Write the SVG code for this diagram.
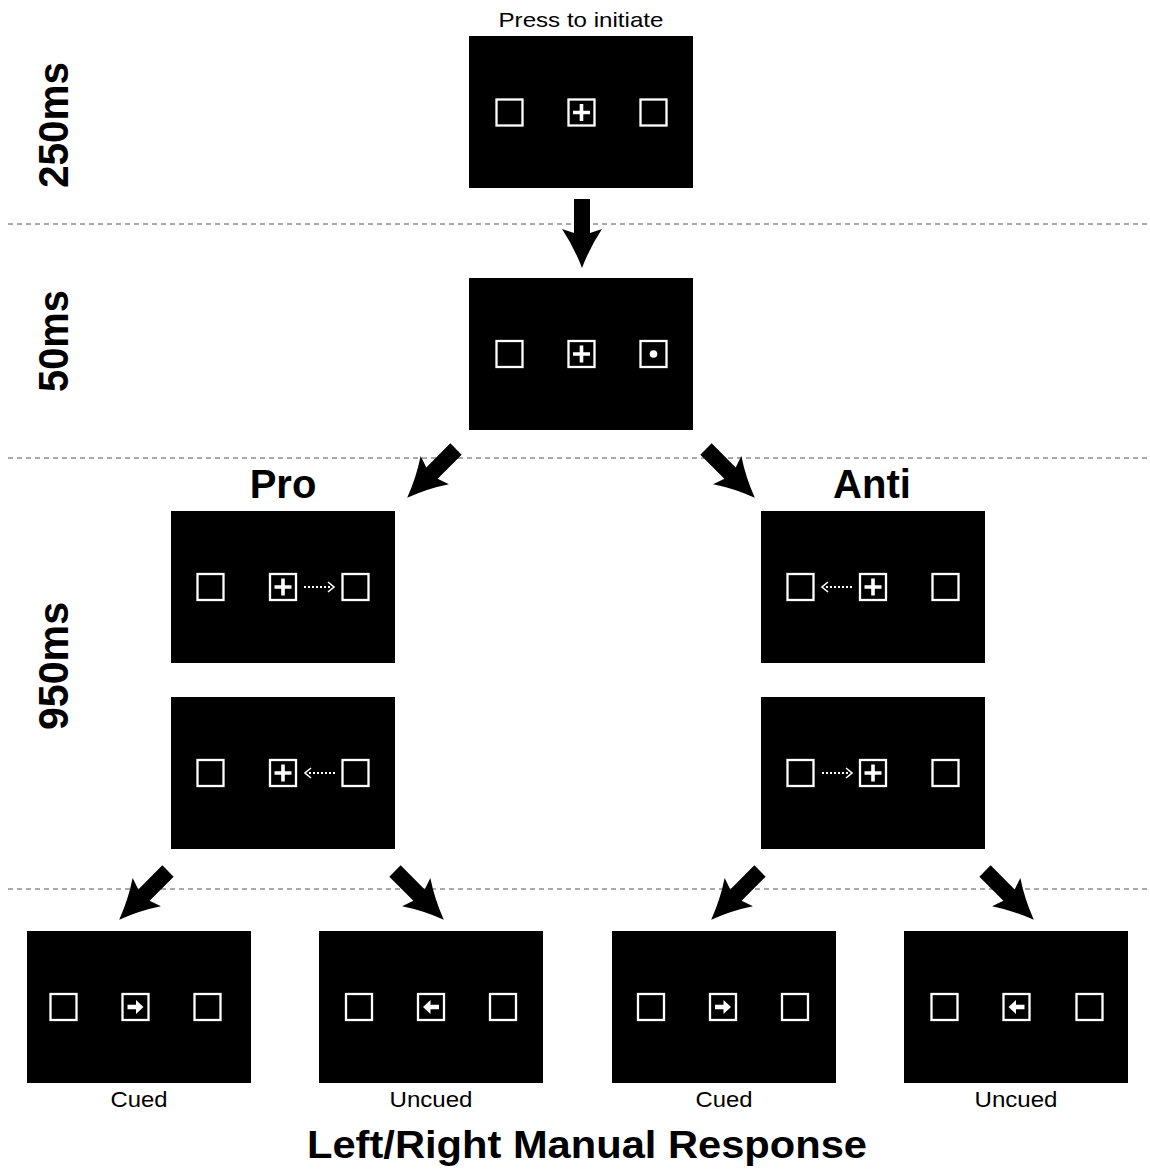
<svg xmlns="http://www.w3.org/2000/svg" xmlns:xlink="http://www.w3.org/1999/xlink" width="1150" height="1170" viewBox="0 0 1150 1170">
  <style>
    .screen { fill: #000; }
    .sq { fill: none; stroke: #fff; stroke-width: 2.3; }
    .dots { fill: none; stroke: #fff; stroke-width: 2; stroke-dasharray: 2 2; }
    .chev { fill: none; stroke: #fff; stroke-width: 1.6; }
    .sep { stroke: #555; stroke-width: 1; stroke-dasharray: 5 4; }
    .lbl { font-family: "Liberation Sans", Arial, sans-serif; fill: #000; }
    .bold { font-weight: bold; }
  </style>
  <defs>
    <!-- empty placeholder square -->
    <rect id="box" class="sq" x="-13" y="-13" width="26" height="26"/>
    <!-- fixation square with a cross -->
    <g id="fix">
      <rect class="sq" x="-13" y="-13" width="26" height="26"/>
      <path d="M-8.5,0 H8.5 M0,-8.5 V8.5" stroke="#fff" stroke-width="3.6"/>
    </g>
    <!-- square with a filled dot (cue) -->
    <g id="dotbox">
      <rect class="sq" x="-13" y="-13" width="26" height="26"/>
      <circle r="3.8" fill="#fff"/>
    </g>
    <!-- square with a solid arrow to the right -->
    <g id="rightbox">
      <rect class="sq" x="-13" y="-13" width="26" height="26"/>
      <path d="M-8,-2.2 H0.5 V-7 L8,0 L0.5,7 V2.2 H-8 Z" fill="#fff"/>
    </g>
    <g id="leftbox">
      <rect class="sq" x="-13" y="-13" width="26" height="26"/>
      <path d="M8,-2.2 H-0.5 V-7 L-8,0 L-0.5,7 V2.2 H8 Z" fill="#fff"/>
    </g>
    <!-- dotted pointer, left to right, 30 long -->
    <g id="dotR">
      <line class="dots" x1="0" y1="0" x2="28" y2="0"/>
      <path class="chev" d="M24,-5 L30,0 L24,5"/>
    </g>
    <g id="dotL">
      <line class="dots" x1="30" y1="0" x2="2" y2="0"/>
      <path class="chev" d="M6,-5 L0,0 L6,5"/>
    </g>
    <!-- big block arrow pointing down, tail centre at origin -->
    <path id="bigArrow" fill="#000" d="M-8,0 H8 V34 L20,30 Q8,48 0,69 Q-8,48 -20,30 L-8,34 Z"/>
  </defs>

  <!-- phase separators -->
  <g id="separators">
    <line class="sep" x1="8" y1="224" x2="1150" y2="224"/>
    <line class="sep" x1="8" y1="458" x2="1150" y2="458"/>
    <line class="sep" x1="8" y1="889" x2="1150" y2="889"/>
  </g>

  <!-- durations -->
  <g id="durations" class="lbl bold" font-size="42" text-anchor="middle">
    <text transform="translate(68,125) rotate(-90)" textLength="126" lengthAdjust="spacingAndGlyphs">250ms</text>
    <text transform="translate(68,341) rotate(-90)" textLength="102" lengthAdjust="spacingAndGlyphs">50ms</text>
    <text transform="translate(68,666) rotate(-90)" textLength="128" lengthAdjust="spacingAndGlyphs">950ms</text>
  </g>

  <!-- connectors -->
  <g id="connectors">
    <use xlink:href="#bigArrow" transform="translate(582,199)"/>
    <use xlink:href="#bigArrow" transform="translate(456,449) rotate(45)"/>
    <use xlink:href="#bigArrow" transform="translate(706,449) rotate(-45)"/>
    <use xlink:href="#bigArrow" transform="translate(168,871) rotate(45)"/>
    <use xlink:href="#bigArrow" transform="translate(395,871) rotate(-45)"/>
    <use xlink:href="#bigArrow" transform="translate(760,871) rotate(45)"/>
    <use xlink:href="#bigArrow" transform="translate(985,871) rotate(-45)"/>
  </g>

  <!-- initiation screen -->
  <g id="start">
    <text class="lbl" x="581" y="27" font-size="21" text-anchor="middle" textLength="165" lengthAdjust="spacingAndGlyphs">Press to initiate</text>
    <rect class="screen" x="469" y="36" width="224" height="152"/>
    <use xlink:href="#box" x="509.5" y="112.5"/>
    <use xlink:href="#fix" x="581.5" y="112.5"/>
    <use xlink:href="#box" x="653.5" y="112.5"/>
  </g>

  <!-- cue screen -->
  <g id="cue">
    <rect class="screen" x="469" y="278" width="224" height="152"/>
    <use xlink:href="#box" x="509.5" y="354"/>
    <use xlink:href="#fix" x="581.5" y="354"/>
    <use xlink:href="#dotbox" x="653.5" y="354"/>
  </g>

  <!-- pro-saccade branch -->
  <g id="pro-title">
    <text class="lbl bold" x="283" y="498" font-size="40" text-anchor="middle">Pro</text>
  </g>
  <g id="pro-right">
    <rect class="screen" x="171" y="511" width="224" height="152"/>
    <use xlink:href="#box" x="210.5" y="587"/>
    <use xlink:href="#fix" x="283" y="587"/>
    <use xlink:href="#box" x="355.5" y="587"/>
    <use xlink:href="#dotR" x="304" y="587"/>
  </g>
  <g id="pro-left">
    <rect class="screen" x="171" y="697" width="224" height="152"/>
    <use xlink:href="#box" x="210.5" y="773"/>
    <use xlink:href="#fix" x="283" y="773"/>
    <use xlink:href="#box" x="355.5" y="773"/>
    <use xlink:href="#dotL" x="305" y="773"/>
  </g>

  <!-- anti-saccade branch -->
  <g id="anti-title">
    <text class="lbl bold" x="872" y="498" font-size="40" text-anchor="middle">Anti</text>
  </g>
  <g id="anti-left">
    <rect class="screen" x="761" y="511" width="224" height="152"/>
    <use xlink:href="#box" x="800.5" y="587"/>
    <use xlink:href="#fix" x="873" y="587"/>
    <use xlink:href="#box" x="945.5" y="587"/>
    <use xlink:href="#dotL" x="822" y="587"/>
  </g>
  <g id="anti-right">
    <rect class="screen" x="761" y="697" width="224" height="152"/>
    <use xlink:href="#box" x="800.5" y="773"/>
    <use xlink:href="#fix" x="873" y="773"/>
    <use xlink:href="#box" x="945.5" y="773"/>
    <use xlink:href="#dotR" x="822" y="773"/>
  </g>

  <!-- response screens -->
  <g id="resp-pro-cued">
    <rect class="screen" x="27" y="931" width="224" height="152"/>
    <use xlink:href="#box" x="63.5" y="1007"/>
    <use xlink:href="#rightbox" x="135.5" y="1007"/>
    <use xlink:href="#box" x="207.5" y="1007"/>
    <text class="lbl" x="139" y="1107" font-size="22" text-anchor="middle" textLength="57" lengthAdjust="spacingAndGlyphs">Cued</text>
  </g>
  <g id="resp-pro-uncued">
    <rect class="screen" x="319" y="931" width="224" height="152"/>
    <use xlink:href="#box" x="359" y="1007"/>
    <use xlink:href="#leftbox" x="431" y="1007"/>
    <use xlink:href="#box" x="503" y="1007"/>
    <text class="lbl" x="431" y="1107" font-size="22" text-anchor="middle" textLength="83" lengthAdjust="spacingAndGlyphs">Uncued</text>
  </g>
  <g id="resp-anti-cued">
    <rect class="screen" x="612" y="931" width="224" height="152"/>
    <use xlink:href="#box" x="651" y="1007"/>
    <use xlink:href="#rightbox" x="723" y="1007"/>
    <use xlink:href="#box" x="795" y="1007"/>
    <text class="lbl" x="724" y="1107" font-size="22" text-anchor="middle" textLength="57" lengthAdjust="spacingAndGlyphs">Cued</text>
  </g>
  <g id="resp-anti-uncued">
    <rect class="screen" x="904" y="931" width="224" height="152"/>
    <use xlink:href="#box" x="944.5" y="1007"/>
    <use xlink:href="#leftbox" x="1016.5" y="1007"/>
    <use xlink:href="#box" x="1089.5" y="1007"/>
    <text class="lbl" x="1016" y="1107" font-size="22" text-anchor="middle" textLength="83" lengthAdjust="spacingAndGlyphs">Uncued</text>
  </g>

  <g id="footer">
    <text class="lbl bold" x="587" y="1158" font-size="38" text-anchor="middle" textLength="560" lengthAdjust="spacingAndGlyphs">Left/Right Manual Response</text>
  </g>
</svg>
